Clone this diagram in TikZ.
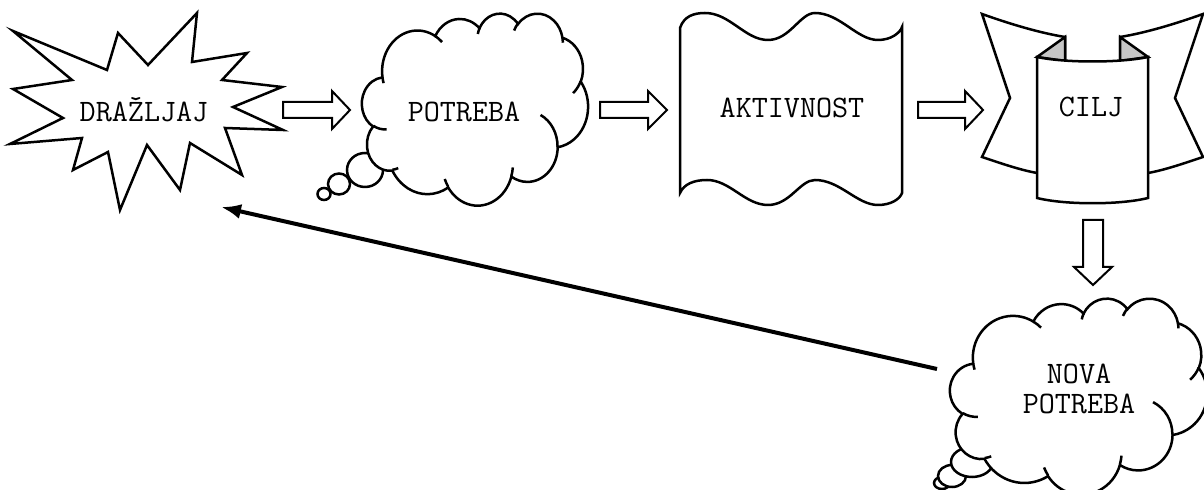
\documentclass[tikz,border=0pt]{standalone}
\usepackage{fontspec}
\newfontfamily\labfont{Latin Modern Mono}
\usetikzlibrary{arrows.meta}
\pgfmathdeclarefunction{vpar}{3}{%
  \begingroup
    \pgfmathparse{atan2((#2)*sin(#1),(#3)*cos(#1))}%
    \pgfmathsmuggle\pgfmathresult
  \endgroup}
\newcommand\wArc[4]{arc[start angle={vpar(#3,#1,#2)}, delta angle={mod(vpar(#3+#4,#1,#2)-vpar(#3,#1,#2)+720,360)}, x radius=#1, y radius=#2]}
\newcommand\cloudmain{(39.00,143.70)
 \wArc{67.53}{91.90}{-190.4875}{123.7805}
 \wArc{53.33}{72.67}{-144.1024}{89.9452}
 \wArc{43.65}{59.45}{-145.8079}{99.7230}
 \wArc{48.57}{65.95}{-130.9861}{117.2417}
 \wArc{53.33}{72.73}{-78.7089}{109.0269}
 \wArc{67.75}{92.20}{-46.2673}{130.2690}
 \wArc{57.85}{78.67}{0.6250}{114.0333}
 \wArc{67.52}{92.15}{22.4516}{115.1726}
 \wArc{77.20}{105.43}{66.2426}{75.7110}
 \wArc{43.60}{59.18}{-274.9421}{146.7356}
 \wArc{43.45}{59.45}{-246.8285}{152.5320} -- cycle}
\newcommand\cloudinner{%
 (46.93,261.77) \wArc{43.45}{59.45}{86.7420}{26.4295}
 (69.28,348.99) \wArc{43.60}{59.18}{73.6105}{11.4475}
 (164.78,390.90) \wArc{67.52}{92.15}{137.6242}{14.0811}
 (288.27,347.51) \wArc{67.52}{92.15}{6.4533}{15.9984}
 (341.29,229.54) \wArc{57.85}{78.67}{-70.2924}{70.9174}
 (417.98,153.54) \wArc{53.33}{72.73}{30.3180}{27.7515}
 (383.24,54.26) \wArc{48.57}{65.95}{-13.7443}{14.8589}
 (290.78,39.52) \wArc{48.57}{65.95}{-149.1815}{18.1954}
 (221.41,47.20) \wArc{43.65}{59.45}{-163.4943}{17.6864}
 (140.00,51.92) \wArc{67.53}{91.90}{-66.7070}{12.3194}
 (41.27,157.89) \wArc{67.53}{91.90}{157.6544}{11.8582}}
\newcommand\harr[4]{%
 \draw[blockarrow] ({#1},{#4-8}) -- ({#2},{#4-8}) -- ({#2},{#4-19}) -- ({#3},{#4})
   -- ({#2},{#4+19}) -- ({#2},{#4+8}) -- ({#1},{#4+8}) -- cycle;}
\tikzset{
  shapeline/.style={line width=1.25pt, draw=black, fill=white, line join=miter},
  innerline/.style={line width=1.25pt, draw=black},
  blockarrow/.style={line width=1pt, draw=black, fill=white, line join=miter},
  lab/.style={font=\labfont\fontsize{15.6}{15}\selectfont, inner sep=0pt, text=black},
  backarrow/.style={line width=2pt, -{Latex[length=10pt,width=7.5pt]}},
}
\begin{document}
\begin{tikzpicture}[x=0.5pt,y=-0.5pt]
\fill[white] (0,0) rectangle (1204,490);
\path[use as bounding box] (0,0) rectangle (1204,490);

% starburst
\draw[shapeline] (13,31) -- (107,70) -- (118,33) -- (148,65) -- (197,13) -- (192,62)
  -- (247,53) -- (222,80) -- (282,87) -- (233,107) -- (283,130) -- (225,128)
  -- (242,175) -- (190,143) -- (180,190) -- (147,145) -- (120,210) -- (108,152)
  -- (73,170) -- (82,138) -- (10,144) -- (63,118) -- (13,89) -- (72,80) -- cycle;
\node[lab, anchor=base] (drazljaj) at (144,122) {DRAŽLJAJ};

% cloud POTREBA
\draw[shapeline] (324,194) ellipse [x radius=6.5, y radius=6];
\draw[shapeline] (339,184) ellipse [x radius=11, y radius=10.5];
\draw[shapeline] (365,170) ellipse [x radius=18, y radius=17];
\begin{scope}[xshift=181pt, yshift=-6.5pt, x=0.26157pt, y=-0.22222pt]
  \path[shapeline] \cloudmain;
  \path[innerline] \cloudinner;
\end{scope}
\node[lab, anchor=base] (potreba) at (464,122) {POTREBA};

% wavy document
\draw[shapeline] (680,28) .. controls (684,16) and (694,13) .. (705,13)
  .. controls (730,13) and (745,40) .. (768,40)
  .. controls (790,40) and (800,13) .. (815,13)
  .. controls (840,13) and (857,40) .. (878,40)
  .. controls (891,40) and (900,33) .. (902,27)
  -- (902,193) .. controls (900,199) and (891,205) .. (878,205)
  .. controls (857,205) and (840,180) .. (815,180)
  .. controls (800,180) and (790,205) .. (768,205)
  .. controls (745,205) and (730,180) .. (707,180)
  .. controls (694,180) and (684,184) .. (680,193) -- cycle;
\node[lab, anchor=base] (aktivnost) at (792,118) {AKTIVNOST};

% banner CILJ
\draw[shapeline] (982,14) .. controls (1010,24) and (1040,33) .. (1065,37) -- (1065,150) -- (1037,173)
  .. controls (1020,170) and (1000,163) .. (982,157) -- (1010,98) -- cycle;
\draw[shapeline] (1203,14) .. controls (1175,24) and (1145,33) .. (1120,37) -- (1120,150) -- (1148,173)
  .. controls (1165,170) and (1185,163) .. (1203,157) -- (1175,98) -- cycle;
\draw[shapeline, fill=gray!45] (1037,57) -- (1065,37) -- (1065,61) -- cycle;
\draw[shapeline, fill=gray!45] (1148,57) -- (1120,37) -- (1120,61) -- cycle;
\draw[shapeline] (1037,57) .. controls (1065,63) and (1120,63) .. (1148,57) -- (1148,198)
  .. controls (1120,205) and (1065,205) .. (1037,198) -- cycle;
\node[lab, anchor=base] (cilj) at (1091,117) {CILJ};

% cloud NOVA POTREBA
\draw[shapeline] (942,483) ellipse [x radius=8, y radius=6];
\draw[shapeline] (952,476) ellipse [x radius=14, y radius=11];
\draw[shapeline] (972,462) ellipse [x radius=21, y radius=15];
\begin{scope}[xshift=475pt, yshift=-149pt, x=0.29745pt, y=-0.22685pt]
  \path[shapeline] \cloudmain;
  \path[innerline] \cloudinner;
\end{scope}
\node[lab, align=center] (nova) at (1079,388.5) {NOVA\\POTREBA};

% block arrows
\harr{283}{332}{350}{110}
\harr{600}{648}{667}{110}
\harr{918}{965}{983}{110}
\draw[blockarrow] (1083,220) -- (1103,220) -- (1103,267) -- (1112,267) -- (1093,285)
  -- (1074,267) -- (1083,267) -- cycle;

% feedback arrow
\coordinate (fbtail) at (937,369);
\coordinate (fbhead) at (221,207);
\draw[backarrow] (fbtail) -- (fbhead);
\end{tikzpicture}
\end{document}
